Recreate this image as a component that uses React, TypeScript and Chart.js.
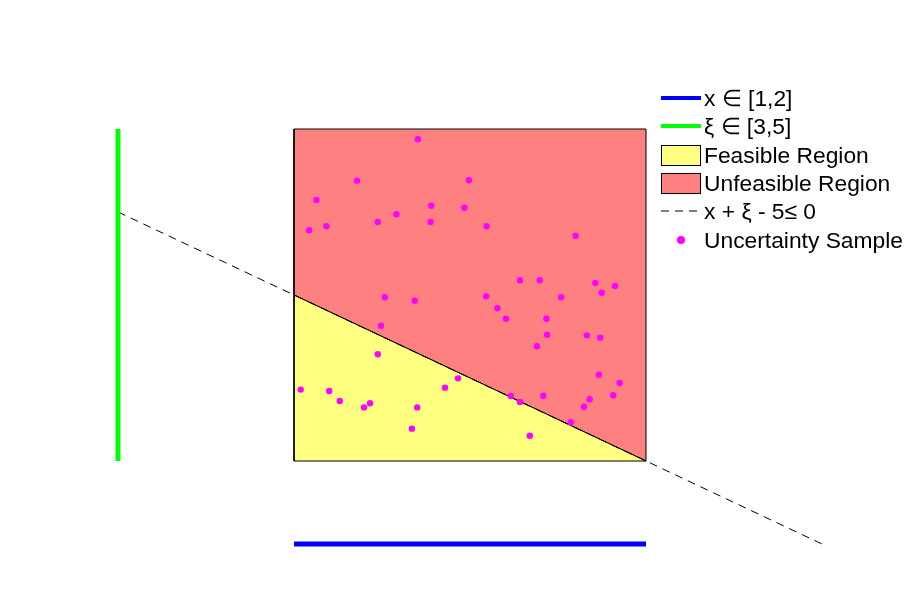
import React, { useEffect, useRef } from "react";
import { Chart, registerables } from "chart.js";

Chart.register(...registerables);

// ---- data ----
const sampleX = [
  1.352, 1.179, 1.497, 1.064, 1.39, 1.484, 1.291, 1.043, 1.092, 1.238,
  1.388, 1.547, 1.8, 1.642, 1.698, 1.856, 1.912, 1.874, 1.546, 1.759,
  1.578, 1.602, 1.717, 1.719, 1.832, 1.87, 1.69, 1.866, 1.925, 1.907,
  1.84, 1.824, 1.616, 1.642, 1.708, 1.786, 1.67, 1.258, 1.343, 1.247,
  1.238, 1.019, 1.1, 1.13, 1.199, 1.216, 1.35, 1.335, 1.429, 1.466,
];
const sampleXi = [
  4.938, 4.689, 4.691, 4.572, 4.538, 4.526, 4.486, 4.39, 4.414, 4.44,
  4.44, 4.414, 4.357, 4.089, 4.089, 4.072, 4.054, 4.014, 3.992, 3.986,
  3.92, 3.857, 3.857, 3.761, 3.757, 3.743, 3.691, 3.52, 3.47, 3.396,
  3.372, 3.327, 3.392, 3.355, 3.393, 3.233, 3.152, 3.986, 3.966, 3.815,
  3.643, 3.43, 3.422, 3.361, 3.323, 3.348, 3.323, 3.195, 3.442, 3.498,
];
const xInterval = [1, 2];
const xiInterval = [3, 5];
const xIntervalAtXi = 2.5; // level where the x interval bar is shown
const xiIntervalAtX = 0.5; // position where the xi interval bar is shown
const constraintXRange = [0.5, 2.5];
const constraintRhs = 5; // x + xi - 5 <= 0
const legendLabels = [
  "x \u2208 [1,2]",
  "\u03BE \u2208 [3,5]",
  "Feasible Region",
  "Unfeasible Region",
  "x + \u03BE - 5\u2264 0",
  "Uncertainty Sample",
];

// ---- axis ranges (hidden axes) ----
const X_MIN = 1 - 294 / 352;
const X_MAX = 1 + (909 - 294) / 352;
const Y_MAX = 3 + 461 / 166;
const Y_MIN = 3 - (612 - 461) / 166;

const FONT = '"Liberation Sans", Arial, Helvetica, sans-serif';

function LegendSwatch({ kind }: { kind: number }) {
  const base: React.CSSProperties = { position: "absolute", left: 0, top: 0, width: 40, height: 28 };
  if (kind === 0 || kind === 1) {
    return (
      <div style={base}>
        <div
          style={{
            position: "absolute",
            left: 0,
            top: 12,
            width: 40,
            height: 4,
            background: kind === 0 ? "#0000ff" : "#00ff00",
          }}
        />
      </div>
    );
  }
  if (kind === 2 || kind === 3) {
    return (
      <div style={base}>
        <div
          style={{
            position: "absolute",
            left: 0,
            top: 4,
            width: 38,
            height: 19,
            border: "1px solid #000",
            background: kind === 2 ? "#ffff80" : "#ff8080",
          }}
        />
      </div>
    );
  }
  if (kind === 4) {
    return (
      <svg style={base} width={40} height={28}>
        <line x1={0} y1={14} x2={40} y2={14} stroke="#000" strokeWidth={1} strokeDasharray="8 6" />
      </svg>
    );
  }
  return (
    <div style={base}>
      <div
        style={{
          position: "absolute",
          left: 16,
          top: 10,
          width: 8,
          height: 8,
          borderRadius: 4,
          background: "#ff00ff",
        }}
      />
    </div>
  );
}

export default function App() {
  const canvasRef = useRef<HTMLCanvasElement | null>(null);

  useEffect(() => {
    const canvas = canvasRef.current;
    if (!canvas) return;

    const samples = sampleX.map((x, i) => ({ x, y: sampleXi[i] }));
    const xBar = xInterval.map((x) => ({ x, y: xIntervalAtXi }));
    const xiBar = xiInterval.map((y) => ({ x: xiIntervalAtX, y }));
    const constraint = constraintXRange.map((x) => ({ x, y: constraintRhs - x }));
    const feasible = [
      { x: xInterval[0], y: xiInterval[0] },
      { x: xInterval[1], y: xiInterval[0] },
      { x: xInterval[0], y: constraintRhs - xInterval[0] },
      { x: xInterval[0], y: xiInterval[0] },
    ];
    const unfeasible = [
      { x: xInterval[0], y: constraintRhs - xInterval[0] },
      { x: xInterval[1], y: constraintRhs - xInterval[1] },
      { x: xInterval[1], y: xiInterval[1] },
      { x: xInterval[0], y: xiInterval[1] },
      { x: xInterval[0], y: constraintRhs - xInterval[0] },
    ];

    const chart = new Chart(canvas, {
      type: "scatter",
      data: {
        datasets: [
          {
            label: legendLabels[5],
            data: samples,
            pointRadius: 3.2,
            pointBackgroundColor: "#ff00ff",
            pointBorderWidth: 0,
            showLine: false,
          },
          {
            label: legendLabels[0],
            data: xBar,
            showLine: true,
            borderColor: "#0000ff",
            borderWidth: 5,
            pointRadius: 0,
            borderCapStyle: "butt",
          },
          {
            label: legendLabels[1],
            data: xiBar,
            showLine: true,
            borderColor: "#00ff00",
            borderWidth: 5,
            pointRadius: 0,
            borderCapStyle: "butt",
          },
          {
            label: legendLabels[4],
            data: constraint,
            showLine: true,
            borderColor: "#000000",
            borderWidth: 1,
            borderDash: [8, 6],
            pointRadius: 0,
          },
          {
            label: legendLabels[2],
            data: feasible,
            showLine: true,
            fill: "shape",
            backgroundColor: "#ffff80",
            borderColor: "#000000",
            borderWidth: 1,
            pointRadius: 0,
          },
          {
            label: legendLabels[3],
            data: unfeasible,
            showLine: true,
            fill: "shape",
            backgroundColor: "#ff8080",
            borderColor: "#000000",
            borderWidth: 1,
            pointRadius: 0,
          },
        ] as any,
      },
      options: {
        animation: false,
        responsive: false,
        devicePixelRatio: 1,
        layout: { padding: 0, autoPadding: false },
        plugins: {
          legend: { display: false },
          tooltip: { enabled: false },
        },
        scales: {
          x: { type: "linear", min: X_MIN, max: X_MAX, display: false },
          y: { type: "linear", min: Y_MIN, max: Y_MAX, display: false },
        },
      } as any,
    });

    return () => chart.destroy();
  }, []);

  const rowCenters = [97.7, 126.3, 155, 183.2, 211, 239.5];

  return (
    <div
      style={{
        position: "fixed",
        left: 0,
        top: 0,
        width: 909,
        height: 612,
        background: "#ffffff",
        overflow: "hidden",
      }}
    >
      <canvas ref={canvasRef} width={909} height={612} style={{ display: "block" }} />
      {legendLabels.map((label, i) => (
        <div
          key={i}
          style={{
            position: "absolute",
            left: 661,
            top: rowCenters[i] - 14,
            height: 28,
            width: 248,
          }}
        >
          <LegendSwatch kind={i} />
          <div
            style={{
              position: "absolute",
              left: 43,
              top: 0,
              height: 28,
              lineHeight: "28px",
              fontFamily: FONT,
              fontSize: 22.8,
              color: "#000",
              whiteSpace: "nowrap",
            }}
          >
            {label}
          </div>
        </div>
      ))}
    </div>
  );
}
